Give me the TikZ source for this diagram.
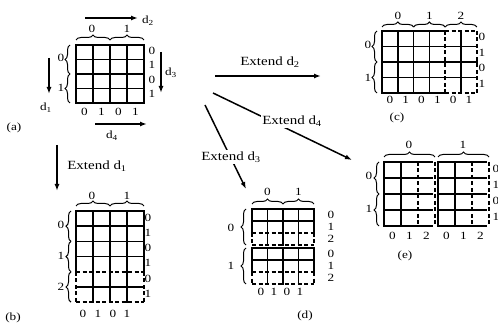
\documentclass[tikz,border=0pt]{standalone}
\usepackage{fontspec}
\setmainfont[FakeStretch=1.2]{Liberation Serif}
\usetikzlibrary{arrows.meta,decorations.pathreplacing}
\begin{document}
\begin{tikzpicture}[x=1pt,y=-1pt,
  g/.style={line width=1.6pt, line cap=rect},
  dg/.style={line width=1.6pt, dash pattern=on 4pt off 2.5pt},
  br/.style={decorate, decoration={brace, amplitude=5pt}, line width=1pt},
  lbl/.style={font=\fontsize{11}{11}\selectfont, inner sep=0pt},
  ext/.style={font=\fontsize{12.5}{12.5}\selectfont, fill=white, inner sep=1.5pt},
  arr/.style={line width=1.5pt, -{Latex[length=7pt,width=5pt]}}]
\useasboundingbox (0,0) rectangle (498,323);

% ---------------- (a)
\foreach \i in {0,...,4} \draw[g] (76+17*\i,45) -- (76+17*\i,103);
\foreach \j in {0,...,4} \draw[g] (76,45+14.5*\j) -- (144,45+14.5*\j);
\draw[br] (76,40) -- (110,40); \draw[br] (110,40) -- (144,40);
\node[lbl] (at0) at (92,29) {0}; \node[lbl] (at1) at (127,29) {1};
\draw[br] (70,74) -- (70,45); \draw[br] (70,103) -- (70,74);
\node[lbl] (al0) at (61,58) {0}; \node[lbl] (al1) at (61,88) {1};
\foreach \j/\t in {0/0,1/1,2/0,3/1} \node[lbl] (ar\j) at (152,50.5+14.5*\j) {\t};
\foreach \i/\t in {0/0,1/1,2/0,3/1} \node[lbl] (ab\i) at (84.5+17*\i,112) {\t};
\coordinate (d2s) at (85,18); \coordinate (d2e) at (138,18);
\draw[arr] (d2s) -- (d2e); \node[lbl] (d2) at (148,21) {d\textsubscript{2}};
\coordinate (d1s) at (49,58); \coordinate (d1e) at (49,94);
\draw[arr] (d1s) -- (d1e); \node[lbl] (d1) at (46,108) {d\textsubscript{1}};
\coordinate (d3s) at (161,52); \coordinate (d3e) at (161,93);
\draw[arr] (d3s) -- (d3e); \node[lbl] (d3) at (171,73) {d\textsubscript{3}};
\coordinate (d4s) at (95,124); \coordinate (d4e) at (147,124);
\draw[arr] (d4s) -- (d4e); \node[lbl] (d4) at (112,136) {d\textsubscript{4}};
\node[lbl] (la) at (14,128) {(a)};

% ---------------- (b)
\coordinate (e1s) at (57,145); \coordinate (e1e) at (57,191);
\draw[arr] (e1s) -- (e1e);
\node[ext,fill=none] (x1) at (97,166) {Extend d\textsubscript{1}};
\foreach \i in {0,...,4} \draw[g] (76+17*\i,211) -- (76+17*\i,271.8);
\foreach \i in {1,...,3} \draw[g] (76+17*\i,271.8) -- (76+17*\i,302.2);
\foreach \j in {0,...,3,5} \draw[g] (76,211+15.2*\j) -- (144,211+15.2*\j);
\draw[dg] (76,271.8) -- (144,271.8);
\draw[dg] (76,302.2) -- (144,302.2);
\draw[dg] (76,271.8) -- (76,302.2);
\draw[dg] (144,271.8) -- (144,302.2);
\draw[br] (76,206) -- (110,206); \draw[br] (110,206) -- (144,206);
\node[lbl] (bt0) at (92,196) {0}; \node[lbl] (bt1) at (127,196) {1};
\draw[br] (71,241.4) -- (71,211); \draw[br] (71,271.8) -- (71,241.4); \draw[br] (71,302.2) -- (71,271.8);
\node[lbl] (bl0) at (61,225) {0}; \node[lbl] (bl1) at (61,256) {1}; \node[lbl] (bl2) at (61,287) {2};
\foreach \j/\t in {0/0,1/1,2/0,3/1,4/0,5/1} \node[lbl] (br\j) at (148,217.6+15.2*\j) {\t};
\foreach \x/\t [count=\k] in {83/0,98/1,113/0,127/1} \node[lbl] (bb\k) at (\x,314) {\t};
\node[lbl] (lb) at (13,318) {(b)};

% ---------------- (c)
\foreach \i in {0,...,3,5} \draw[g] (382+15.8*\i,31) -- (382+15.8*\i,93);
\draw[dg] (445.2,31) -- (445.2,93);
\draw[dg] (476.8,31) -- (476.8,93);
\foreach \j in {0,...,4} \draw[g] (382,31+15.5*\j) -- (445.2,31+15.5*\j);
\foreach \j in {1,...,3} \draw[g] (445.2,31+15.5*\j) -- (476.8,31+15.5*\j);
\draw[dg] (445.2,31) -- (476.8,31);
\draw[dg] (445.2,93) -- (476.8,93);
\draw[br] (382,27) -- (413.6,27); \draw[br] (413.6,27) -- (445.2,27); \draw[br] (445.2,27) -- (476.8,27);
\node[lbl] (ct0) at (397.8,16) {0}; \node[lbl] (ct1) at (429.4,16) {1}; \node[lbl] (ct2) at (461,16) {2};
\draw[br] (377,62) -- (377,31); \draw[br] (377,93) -- (377,62);
\node[lbl] (cl0) at (368,45) {0}; \node[lbl] (cl1) at (368,78) {1};
\foreach \j/\t in {0/0,1/1,2/0,3/1} \node[lbl] (cr\j) at (482,37+15.5*\j) {\t};
\foreach \i/\t in {0/0,1/1,2/0,3/1,4/0,5/1} \node[lbl] (cb\i) at (389.9+15.8*\i,100) {\t};
\node[lbl] (lc) at (397,118) {(c)};

% ---------------- (d)
\foreach \t in {209,248} {
  \foreach \i in {0,...,4} \draw[g] (252+15.5*\i,\t) -- (252+15.5*\i,\t+24);
  \foreach \i in {1,...,3} \draw[g] (252+15.5*\i,\t+24) -- (252+15.5*\i,\t+36);
  \draw[g] (252,\t) -- (314,\t);
  \draw[g] (252,\t+12) -- (314,\t+12);
  \draw[dg] (252,\t+24) -- (314,\t+24);
  \draw[dg] (252,\t+36) -- (314,\t+36);
  \draw[dg] (252,\t+24) -- (252,\t+36);
  \draw[dg] (314,\t+24) -- (314,\t+36);
}
\draw[br] (252,204) -- (283,204); \draw[br] (283,204) -- (314,204);
\node[lbl] (dt0) at (267.5,192) {0}; \node[lbl] (dt1) at (298.5,192) {1};
\draw[br] (246,245) -- (246,209); \draw[br] (246,284) -- (246,248);
\node[lbl] (dl0) at (231,228) {0}; \node[lbl] (dl1) at (231,266) {1};
\foreach \y/\t [count=\k] in {215/0,227/1,239/2,254/0,266/1,278/2} \node[lbl] (dr\k) at (331,\y) {\t};
\foreach \x/\t [count=\k] in {261/0,274/1,287/0,300/1} \node[lbl] (db\k) at (\x,292) {\t};
\node[lbl] (ld) at (305,316) {(d)};

% ---------------- (e)
\foreach \s in {384,438} {
  \foreach \i in {0,1} \draw[g] (\s+17*\i,162) -- (\s+17*\i,226);
  \foreach \i in {2,3} \draw[dg] (\s+17*\i,162) -- (\s+17*\i,226);
  \foreach \j in {0,...,4} \draw[g] (\s,162+16*\j) -- (\s+48,162+16*\j);
}
\draw[br] (384,157) -- (435,157); \draw[br] (438,157) -- (489,157);
\node[lbl] (et0) at (409,145) {0}; \node[lbl] (et1) at (463,145) {1};
\draw[br] (379,194) -- (379,162); \draw[br] (379,226) -- (379,194);
\node[lbl] (el0) at (369,176) {0}; \node[lbl] (el1) at (369,209) {1};
\foreach \j/\t in {0/0,1/1,2/0,3/1} \node[lbl] (er\j) at (496,169+16*\j) {\t};
\foreach \x/\t [count=\k] in {392.5/0,409.5/1,426.5/2,446.5/0,463.5/1,480.5/2} \node[lbl] (eb\k) at (\x,236) {\t};
\node[lbl] (le) at (405,256) {(e)};

% ---------------- extension arrows
\coordinate (o2) at (215,76); \coordinate (t2) at (321,76);
\draw[arr] (o2) -- (t2);
\node[ext,fill=none] (x2) at (270,62) {Extend d\textsubscript{2}};
\coordinate (o4) at (213,93); \coordinate (t4) at (352,160);
\draw[arr] (o4) -- (t4);
\node[ext] (x4) at (292,121) {Extend d\textsubscript{4}};
\coordinate (o3) at (205,105); \coordinate (t3) at (246,189);
\draw[arr] (o3) -- (t3);
\node[ext] (x3) at (231,157) {Extend d\textsubscript{3}};
\end{tikzpicture}
\end{document}
